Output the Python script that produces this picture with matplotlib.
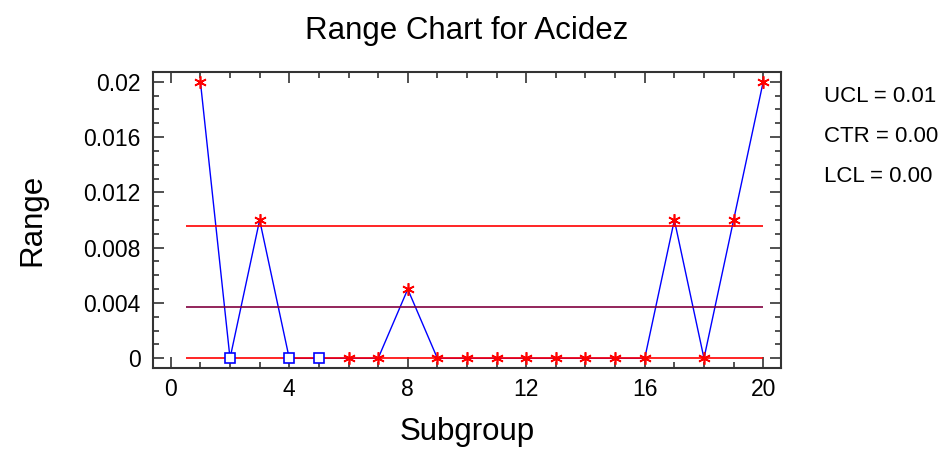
import matplotlib.pyplot as plt
from matplotlib.ticker import MultipleLocator
import numpy as np

plt.rcParams['font.family'] = ['Liberation Sans', 'DejaVu Sans']

# subgroup ranges
subgroup = np.arange(1, 21)
rng = [0.02, 0.0, 0.01, 0.0, 0.0, 0.0, 0.0, 0.005, 0.0, 0.0,
       0.0, 0.0, 0.0, 0.0, 0.0, 0.0, 0.01, 0.0, 0.01, 0.02]
excluded = [2, 4, 5]

ucl = 0.0096
ctr = 0.0037
lcl = 0.0
limit_labels = ['UCL = 0.01', 'CTR = 0.00', 'LCL = 0.00']

fig = plt.figure(figsize=(9.47, 4.51), dpi=100)
ax = fig.add_axes([153/947, 1 - 368/451, (781-153)/947, (368-72)/451])

ax.plot(subgroup, rng, color='blue', lw=1, zorder=2)
ax.hlines([ucl, lcl], 0.5, 20, colors='red', lw=1.2, zorder=3)
ax.hlines(ctr, 0.5, 20, colors='#800040', lw=1.2, zorder=3)

keep = [i for i, s in enumerate(subgroup) if s not in excluded]
drop = [i for i, s in enumerate(subgroup) if s in excluded]
ax.plot(subgroup[keep], np.array(rng)[keep], ls='none', marker=(6, 2, 0),
        ms=9, mec='red', mew=1.2, zorder=4)
ax.plot(subgroup[drop], np.array(rng)[drop], ls='none', marker='s',
        ms=7, mfc='white', mec='blue', mew=1.2, zorder=4)

ax.set_xlim(-0.6, 20.6)
ax.set_ylim(-0.0007, 0.0207)
ax.xaxis.set_major_locator(MultipleLocator(4))
ax.xaxis.set_minor_locator(MultipleLocator(1))
ax.yaxis.set_minor_locator(MultipleLocator(0.001))
ax.set_yticks([0, 0.004, 0.008, 0.012, 0.016, 0.02])
ax.set_yticklabels(['0', '0.004', '0.008', '0.012', '0.016', '0.02'])

ax.tick_params(which='both', direction='in', top=True, right=True,
               labelsize=16.5, color='#333333')
ax.tick_params(which='major', length=8, width=1.2)
ax.tick_params(which='minor', length=4, width=1.2)
ax.tick_params(axis='x', pad=7)
ax.tick_params(axis='y', pad=9)
for s in ax.spines.values():
    s.set_linewidth(1.5)
    s.set_color('#333333')

ax.set_title('Range Chart for Acidez', fontsize=22.5, pad=24)
ax.set_xlabel('Subgroup', fontsize=22.5, labelpad=12)
ax.set_ylabel('Range', fontsize=22.5, labelpad=26)

for k, lab in enumerate(limit_labels):
    fig.text(824/947, 1 - (96 + 40*k)/451, lab, fontsize=16, va='center', ha='left')

fig.savefig('out.png', dpi=100)
